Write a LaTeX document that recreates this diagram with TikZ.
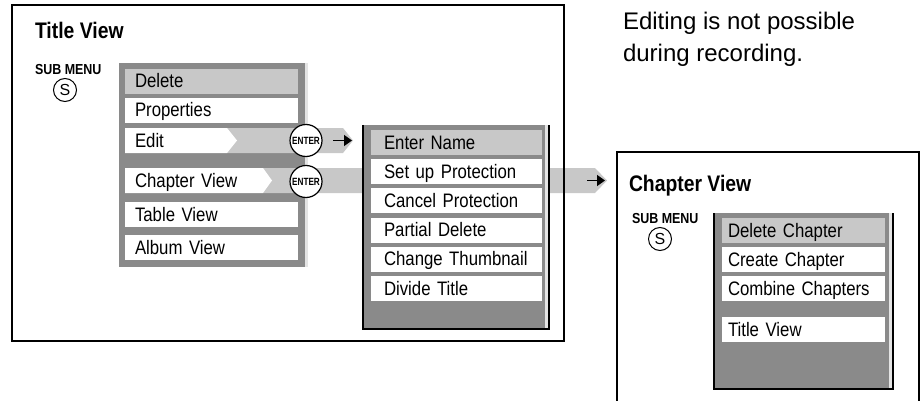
\documentclass[tikz,border=0pt]{standalone}
\usepackage{fontspec}
\setmainfont{Liberation Sans}
\newfontfamily\cond[FakeStretch=0.86,WordSpace=0.8]{Liberation Sans}
\newfontfamily\condb[FakeStretch=0.86]{Liberation Sans}
\newfontfamily\condx[FakeStretch=0.78]{Liberation Sans}
\usetikzlibrary{arrows.meta}
\definecolor{menubg}{RGB}{138,138,138}
\definecolor{hl}{RGB}{200,200,200}
\definecolor{edgelight}{RGB}{228,228,228}
\begin{document}
\begin{tikzpicture}[x=1pt,y=-1pt,
  every node/.style={inner sep=0pt, outer sep=0pt},
  frame/.style={draw=black, line width=1.4pt},
  boxline/.style={draw=black, line width=1.3pt},
  mitem/.style={rectangle, fill=white, anchor=north west, inner ysep=0pt,
    text height=19pt, text depth=6pt, align=left,
    font=\cond\fontsize{19.5}{22}\selectfont},
  itemA/.style={mitem, inner xsep=10pt, text width=153pt},
  itemB/.style={mitem, inner xsep=13pt, text width=145pt},
  itemC/.style={mitem, inner xsep=6pt, text width=151pt},
  titletext/.style={anchor=base west, font=\condb\bfseries\fontsize{22.5}{26}\selectfont},
  subtext/.style={anchor=base west, font=\condb\bfseries\fontsize{14.5}{16}\selectfont},
  scirc/.style={circle, draw=black, line width=1pt, minimum size=23pt, font=\fontsize{16}{16}\selectfont},
  entercirc/.style={circle, draw=black, fill=white, line width=1.2pt, minimum size=32pt,
    font=\condx\bfseries\fontsize{10.5}{10.5}\selectfont},
  blkarrow/.style={line width=1.5pt, -{Triangle[length=8pt, width=11pt]}},
  note/.style={anchor=base west, font=\fontsize{24}{31}\selectfont}
]
\useasboundingbox (0,0) rectangle (920,401);

% ---------- Title View main menu ----------
\fill[menubg] (119,63) rectangle (307,267);
\fill[edgelight] (304.5,63) rectangle (307.5,267);

% bands
\fill[hl] (227,128) -- (343,128) -- (353,140.5) -- (343,153) -- (227,153) -- cycle;
\fill[hl] (263,168) -- (595,168) -- (607,180.5) -- (595,193) -- (263,193) -- cycle;
% white chevrons
\fill[white] (125,128) -- (227,128) -- (237,140.5) -- (227,153) -- (125,153) -- cycle;
\fill[white] (125,168) -- (263,168) -- (272,180.5) -- (263,193) -- (125,193) -- cycle;

\node[itemA, fill=hl] (del) at (125,69) {Delete};
\node[itemA] (prop) at (125,98) {Properties};
\node[itemA, fill=none] (edit) at (125,128) {Edit};
\node[itemA, fill=none] (chap) at (125,168) {Chapter View};
\node[itemA] (table) at (125,202) {Table View};
\node[itemA] (album) at (125,235) {Album View};

% ---------- Edit submenu ----------
\fill[menubg] (363,125) rectangle (549,329);
\fill[edgelight] (545,125) rectangle (548,329);
\draw[boxline] (363,125) -- (363,329) -- (549,329) -- (549,125);
\node[itemB, fill=hl] (ename) at (371,130) {Enter Name};
\node[itemB] (setp) at (371,159.2) {Set up Protection};
\node[itemB] (canp) at (371,188.4) {Cancel Protection};
\node[itemB] (pdel) at (371,217.6) {Partial Delete};
\node[itemB] (thumb) at (371,246.8) {Change Thumbnail};
\node[itemB] (divide) at (371,276) {Divide Title};

% ENTER buttons
\node[entercirc] (en1) at (306,140.5) {ENTER};
\node[entercirc] (en2) at (306,181.5) {ENTER};

% black arrows
\coordinate (a1s) at (333,140.5);
\coordinate (a1e) at (352,140.5);
\draw[blkarrow] (a1s) -- (a1e);
\coordinate (a2s) at (587,180.5);
\coordinate (a2e) at (605,180.5);
\draw[blkarrow] (a2s) -- (a2e);

% ---------- Title View frame ----------
\draw[frame] (12,5) rectangle (564,341);
\node[titletext] (tvt) at (35,39) {Title View};
\node[subtext] (sm1) at (35,75) {SUB MENU};
\node[scirc] (s1) at (65,90) {S};

% ---------- Chapter View frame ----------
\draw[frame] (617,410) -- (617,152) -- (919,152) -- (919,410);
\node[titletext] (cvt) at (629,191) {Chapter View};
\node[subtext] (sm2) at (632,223) {SUB MENU};
\node[scirc] (s2) at (660,239) {S};

\fill[menubg] (714,213) rectangle (893,389);
\fill[edgelight] (889,213) rectangle (892,389);
\draw[boxline] (714,213) -- (714,389) -- (893,389) -- (893,213);
\node[itemC, fill=hl] (dch) at (722,218) {Delete Chapter};
\node[itemC] (cch) at (722,247) {Create Chapter};
\node[itemC] (comb) at (722,276) {Combine Chapters};
\node[itemC] (tv) at (722,317) {Title View};

% ---------- note ----------
\node[note] (n1) at (623,30) {Editing is not possible};
\node[note] (n2) at (623,62) {during recording.};
\end{tikzpicture}
\end{document}
